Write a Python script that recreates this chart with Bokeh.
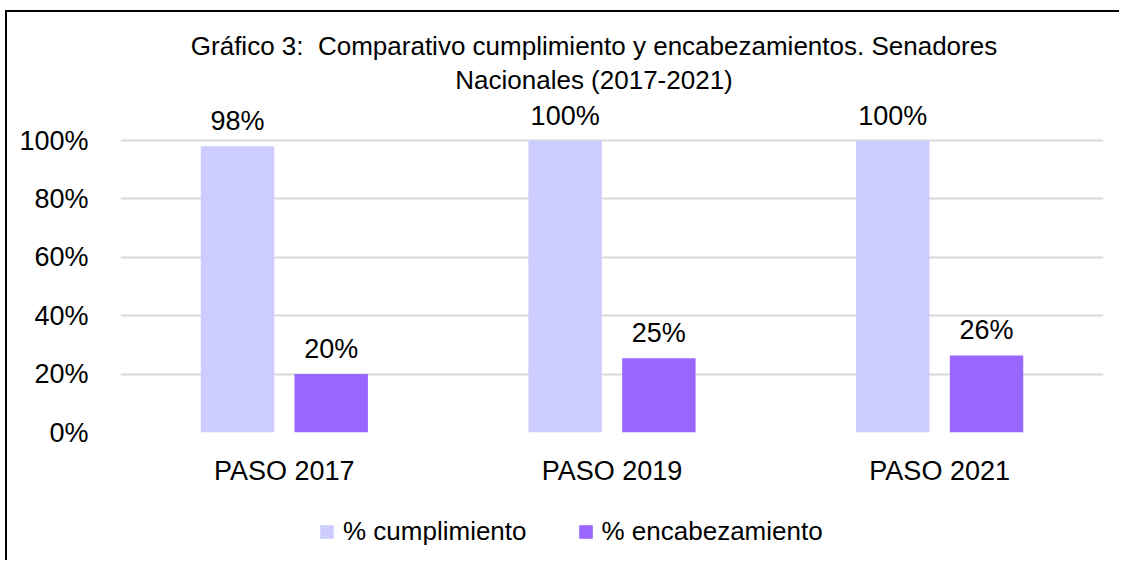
from bokeh.plotting import figure
from bokeh.layouts import column
from bokeh.models import (ColumnDataSource, FactorRange, Range1d, LabelSet, Legend,
                          LegendItem, FixedTicker, NumeralTickFormatter, Label)
from bokeh.core.properties import value
from bokeh.transform import dodge
from bokeh.embed import file_html
from bokeh.resources import INLINE

categories = ["PASO 2017", "PASO 2019", "PASO 2021"]
cumplimiento = [0.98, 1.00, 1.00]
encabezamiento = [0.20, 0.254, 0.264]
series_names = ["% cumplimiento", "% encabezamiento"]
title_lines = ["Gráfico 3:\u00a0 Comparativo cumplimiento y encabezamientos. Senadores",
               "Nacionales (2017-2021)"]
y_ticks = [0, 0.2, 0.4, 0.6, 0.8, 1.0]

FONT = "Liberation Sans"
FS = "27px"
LIGHT = "#CCCCFF"
DARK = "#9966FF"

src = ColumnDataSource(dict(
    cat=categories,
    c=cumplimiento,
    e=encabezamiento,
    c_lbl=["{:.0f}%".format(v * 100) for v in cumplimiento],
    e_lbl=["{:.0f}%".format(v * 100) for v in encabezamiento],
))

# main chart: the plot frame reaches the top of the canvas so that the title and
# the value labels (annotations are clipped to the frame) stay visible
p = figure(x_range=FactorRange(*categories), y_range=Range1d(0, 420 / 292),
           width=1114, height=488, output_backend="svg", toolbar_location=None,
           min_border_left=113, min_border_right=18, min_border_top=0,
           min_border_bottom=68)
p.styles = {"border-left": "2px solid #000", "border-top": "2px solid #000",
            "margin-top": "10px", "margin-left": "5px"}
p.outline_line_color = None
p.background_fill_color = "white"
p.border_fill_color = "white"

r1 = p.vbar(x=dodge("cat", -0.143, range=p.x_range), top="c", width=0.224,
            source=src, fill_color=LIGHT, line_color=None)
r2 = p.vbar(x=dodge("cat", 0.143, range=p.x_range), top="e", width=0.224,
            source=src, fill_color=DARK, line_color=None)

for col, lbl, off in (("c", "c_lbl", -0.143), ("e", "e_lbl", 0.143)):
    ls = LabelSet(x=dodge("cat", off, range=p.x_range), y=col, text=lbl, source=src,
                  text_align="center", text_baseline="bottom", y_offset=10,
                  text_font=value(FONT), text_font_size=value(FS),
                  text_color="#000000")
    p.add_layout(ls)

# axes
p.yaxis.ticker = FixedTicker(ticks=y_ticks)
p.yaxis.formatter = NumeralTickFormatter(format="0%")
p.yaxis.axis_line_color = None
p.yaxis.major_tick_line_color = None
p.yaxis.minor_tick_line_color = None
p.yaxis.major_label_standoff = 26
p.yaxis.major_label_text_font = FONT
p.yaxis.major_label_text_font_size = FS
p.yaxis.major_label_text_color = "#000000"

p.xaxis.axis_line_color = None
p.xaxis.major_tick_line_color = None
p.xaxis.major_label_standoff = 17
p.xaxis.major_label_text_font = FONT
p.xaxis.major_label_text_font_size = FS
p.xaxis.major_label_text_color = "#000000"

p.xgrid.grid_line_color = None
p.ygrid.grid_line_color = "#D9D9D9"
p.ygrid.grid_line_width = 2

# title (two centred lines above the plot area)
for t, off in zip(title_lines, (95, 61)):
    p.add_layout(Label(x=1.5, y=1.0, x_offset=-18, y_offset=off,
                       text=t, text_align="center", text_baseline="middle",
                       text_font=FONT, text_font_size="26px", text_color="#000000"))

# legend strip underneath the chart
pl = figure(x_range=Range1d(0, 1), y_range=Range1d(0, 1), width=1114, height=62,
            output_backend="svg", toolbar_location=None,
            min_border_left=0, min_border_right=0, min_border_top=0,
            min_border_bottom=0, x_axis_type=None, y_axis_type=None)
pl.styles = {"border-left": "2px solid #000", "margin-left": "5px"}
pl.outline_line_color = None
pl.xgrid.visible = False
pl.ygrid.visible = False
# swatch-only renderers (their bars lie outside the visible range)
lg1 = pl.vbar(x=[-5], top=[-5], width=0.1, fill_color=LIGHT, line_color=None)
lg2 = pl.vbar(x=[-5], top=[-5], width=0.1, fill_color=DARK, line_color=None)

legend = Legend(items=[LegendItem(label=series_names[0], renderers=[lg1]),
                       LegendItem(label=series_names[1], renderers=[lg2])],
                orientation="horizontal", location=(198, 13),
                glyph_width=17, glyph_height=17, label_standoff=8, spacing=50,
                padding=0, margin=0, border_line_color=None,
                label_text_font=FONT, label_text_font_size="26px",
                label_text_color="#000000", background_fill_alpha=0)
pl.add_layout(legend, "center")

layout = column(p, pl, spacing=0)
open("out.html", "w").write(file_html(layout, INLINE))
